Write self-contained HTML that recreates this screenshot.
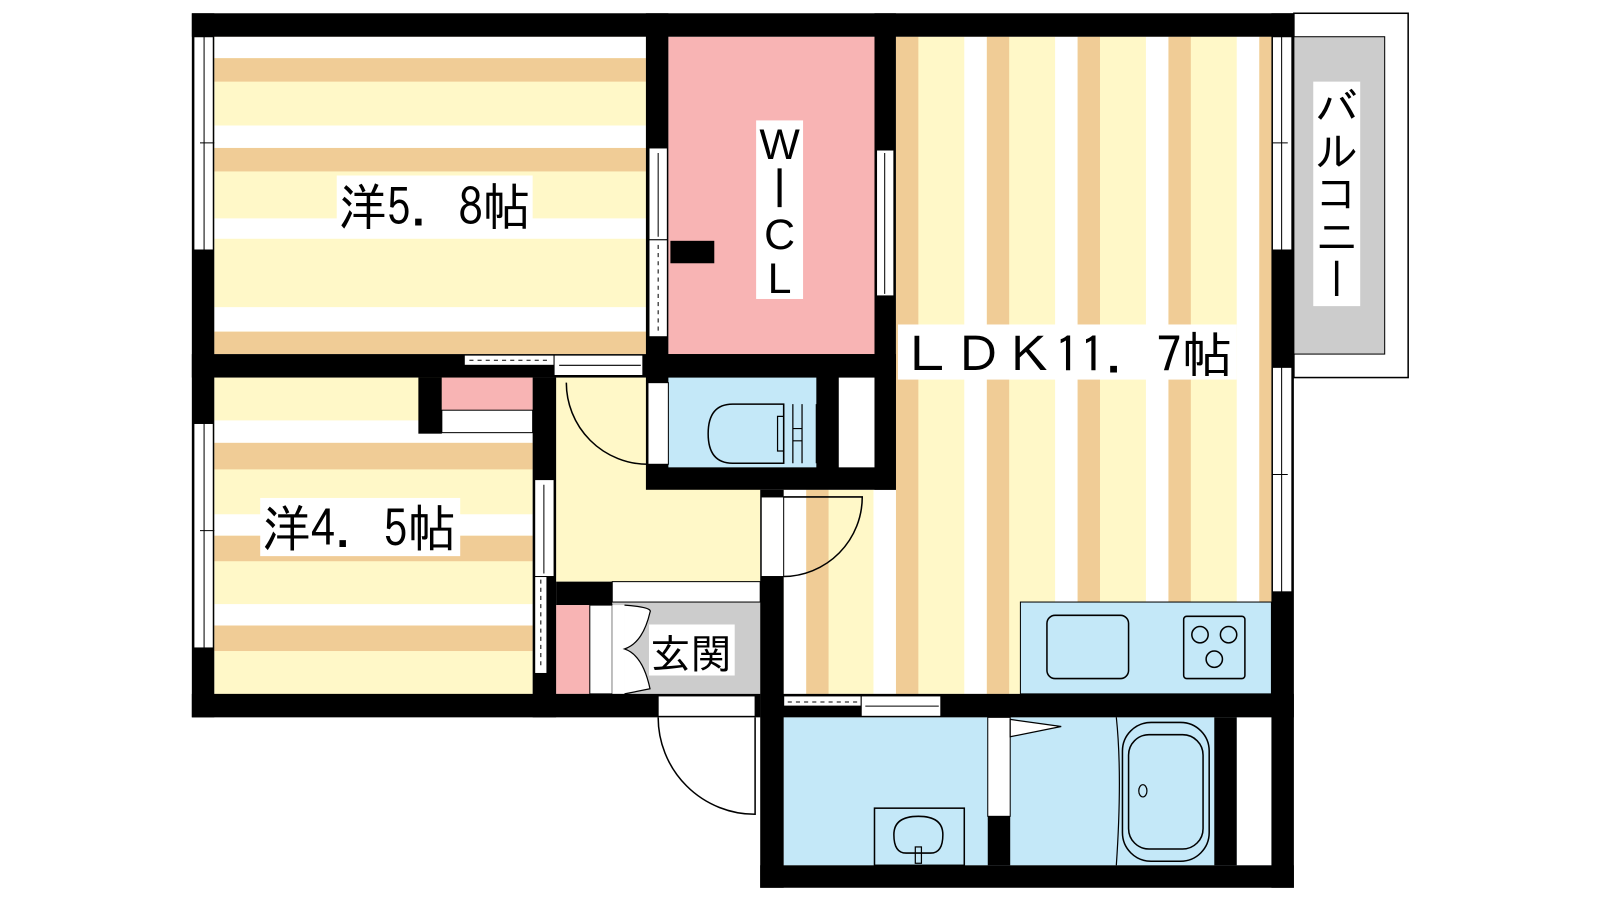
<!DOCTYPE html>
<html><head><meta charset="utf-8"><style>html,body{margin:0;padding:0;background:#fff;width:1600px;height:900px;overflow:hidden}svg{display:block}
text{font-family:"IPAGothic","Noto Sans CJK JP",sans-serif;fill:#000}</style></head><body>
<svg width="1600" height="900" viewBox="0 0 1568 882" preserveAspectRatio="none" xmlns="http://www.w3.org/2000/svg">
<rect width="1568" height="882" fill="#fff"/>
<!-- 5.8 room -->
<g>
<rect x="210" y="36" width="423" height="311" fill="#fff8c8"/>
<rect x="210" y="36" width="423" height="21" fill="#fff"/>
<rect x="210" y="57" width="423" height="23" fill="#f0cc96"/>
<rect x="210" y="123" width="423" height="22" fill="#fff"/>
<rect x="210" y="145" width="423" height="23" fill="#f0cc96"/>
<rect x="210" y="214" width="423" height="20" fill="#fff"/>
<rect x="210" y="301" width="423" height="24" fill="#fff"/>
<rect x="210" y="325" width="423" height="22" fill="#f0cc96"/>
</g>
<!-- LDK stripes -->
<rect x="878" y="36" width="368" height="644" fill="#fff8c8"/>
<rect x="768" y="480" width="110" height="200" fill="#fff8c8"/>
<g fill="#f0cc96">
<rect x="790" y="480" width="22" height="200"/>
<rect x="878" y="36" width="22" height="644"/>
<rect x="967" y="36" width="22" height="644"/>
<rect x="1056" y="36" width="22" height="644"/>
<rect x="1145" y="36" width="22" height="644"/>
<rect x="1234" y="36" width="12" height="644"/>
</g>
<g fill="#fff">
<rect x="768" y="480" width="22" height="200"/>
<rect x="856" y="480" width="22" height="200"/>
<rect x="945" y="36" width="22" height="644"/>
<rect x="1034" y="36" width="22" height="644"/>
<rect x="1123" y="36" width="22" height="644"/>
<rect x="1212" y="36" width="22" height="644"/>
</g>
<!-- WCL -->
<rect x="655" y="36" width="202" height="311" fill="#f8b4b4"/>
<rect x="657" y="236" width="43" height="22" fill="#000"/>
<!-- 4.5 room -->
<rect x="210" y="370" width="312" height="311" fill="#fff8c8"/>
<rect x="210" y="412" width="312" height="22" fill="#fff"/>
<rect x="210" y="434" width="312" height="26" fill="#f0cc96"/>
<rect x="210" y="504" width="312" height="21" fill="#fff"/>
<rect x="210" y="525" width="312" height="25" fill="#f0cc96"/>
<rect x="210" y="592" width="312" height="21" fill="#fff"/>
<rect x="210" y="613" width="312" height="25" fill="#f0cc96"/>
<rect x="410" y="370" width="23" height="55" fill="#000"/>
<rect x="433" y="370" width="89" height="32" fill="#f8b4b4"/>
<rect x="433" y="402" width="89" height="22" fill="#fff" stroke="#000" stroke-width="1"/>
<!-- hall -->
<rect x="545" y="370" width="200" height="200" fill="#fff8c8"/>
<!-- toilet block -->
<rect x="633" y="347" width="245" height="133" fill="#000"/>
<rect x="655" y="370" width="145" height="88" fill="#c4e8f8"/>
<rect x="822" y="370" width="35" height="88" fill="#fff"/>
<rect x="635" y="375" width="20" height="80" fill="#fff" stroke="#000" stroke-width="1"/>
<path d="M555,375 A80,80 0 0 0 635,455" fill="none" stroke="#000" stroke-width="1.5"/>
<path d="M718,396 L768,396 L768,454 L718,454 Q694,454 694,425 Q694,396 718,396 Z" fill="none" stroke="#000" stroke-width="1.5"/>
<path d="M768,396 V454 M777,396 V454 M786,396 V454 M800,396 V454 M768,408 H762 V442 H768 M777,420 H786 M777,432 H786" fill="none" stroke="#000" stroke-width="1.2"/>
<!-- entrance -->
<rect x="600" y="590" width="145" height="90" fill="#cccccc"/>
<rect x="600" y="570" width="145" height="20" fill="#fff" stroke="#000" stroke-width="1"/>
<rect x="545" y="570" width="55" height="23" fill="#000"/>
<rect x="545" y="593" width="33" height="87" fill="#f8b4b4"/>
<rect x="578" y="593" width="22" height="87" fill="#fff" stroke="#000" stroke-width="1"/>
<rect x="600" y="593" width="12" height="87" fill="#fff"/>
<path d="M612,593 Q640,595 637,600 Q630,630 612,636 Q630,642 637,675 L612,680" fill="#fff" stroke="#000" stroke-width="1.2"/>
<rect x="636" y="612" width="84" height="50" fill="#fff"/>
<text x="637" y="655" font-size="40">玄関</text>
<!-- kitchen -->
<rect x="1000" y="590" width="246" height="90" fill="#c4e8f8" stroke="#000" stroke-width="1"/>
<rect x="1026" y="603" width="80" height="62" rx="8" fill="none" stroke="#000" stroke-width="1.5"/>
<rect x="1160" y="604" width="60" height="61" rx="3" fill="none" stroke="#000" stroke-width="1.5"/>
<g fill="none" stroke="#000" stroke-width="1.5"><circle cx="1176" cy="622" r="8"/><circle cx="1204" cy="622" r="8"/><circle cx="1190" cy="646" r="8"/></g>
<!-- bath area -->
<rect x="768" y="703" width="478" height="145" fill="#c4e8f8"/>
<rect x="968" y="703" width="22" height="97" fill="#fff" stroke="#000" stroke-width="1"/>
<rect x="968" y="800" width="22" height="48" fill="#000"/>
<rect x="1212" y="703" width="34" height="145" fill="#fff"/>
<rect x="1190" y="703" width="22" height="145" fill="#000"/>
<path d="M990,705 L1040,712 L990,722 Z" fill="#fff" stroke="#000" stroke-width="1.2"/>
<path d="M1094,703 Q1100,760 1094,848" fill="none" stroke="#000" stroke-width="1.2"/>
<rect x="1100" y="708" width="85" height="136" rx="28" fill="none" stroke="#000" stroke-width="1.5"/>
<rect x="1106" y="720" width="73" height="112" rx="20" fill="none" stroke="#000" stroke-width="1.5"/>
<ellipse cx="1120" cy="775" rx="4" ry="6" fill="none" stroke="#000" stroke-width="1.2"/>
<rect x="857" y="792" width="88" height="56" fill="none" stroke="#000" stroke-width="1.5"/>
<path d="M888,836 Q876,836 876,818 Q876,800 900,800 Q924,800 924,818 Q924,836 912,836 Z" fill="none" stroke="#000" stroke-width="1.5"/>
<rect x="897" y="830" width="6" height="16" fill="none" stroke="#000" stroke-width="1.2"/>
<!-- walls -->
<g fill="#000">
<rect x="188" y="13" width="1080" height="23"/>
<rect x="188" y="13" width="22" height="690"/>
<rect x="633" y="13" width="22" height="357"/>
<rect x="857" y="13" width="21" height="467"/>
<rect x="188" y="347" width="690" height="23"/>
<rect x="522" y="370" width="23" height="333"/>
<rect x="188" y="680" width="557" height="23"/>
<rect x="745" y="480" width="23" height="390"/>
<rect x="745" y="680" width="523" height="23"/>
<rect x="1246" y="13" width="22" height="857"/>
<rect x="745" y="848" width="523" height="22"/>
</g>
<!-- windows / doors in walls -->
<g fill="#fff" stroke="#000" stroke-width="1">
<rect x="190" y="36" width="19" height="209"/>
<rect x="190" y="415" width="19" height="220"/>
<rect x="1247" y="36" width="19" height="209"/>
<rect x="1247" y="360" width="19" height="220"/>
<rect x="636" y="145" width="18" height="90"/>
<rect x="636" y="235" width="18" height="95"/>
<rect x="859" y="147" width="17" height="143"/>
<rect x="455" y="348" width="88" height="10"/>
<rect x="543" y="348" width="87" height="20"/>
<rect x="524" y="470" width="19" height="95"/>
<rect x="524" y="565" width="12" height="95"/>
<rect x="768" y="682" width="76" height="10"/>
<rect x="844" y="682" width="78" height="20"/>
<rect x="645" y="682" width="95" height="20"/>
<rect x="746" y="487" width="22" height="78"/>
</g>
<g stroke="#000" stroke-width="1" fill="none">
<path d="M200,36 V245 M200,415 V635 M1256,36 V245 M1256,360 V580 M196,140 H210 M196,520 H210 M1247,140 H1262 M1247,465 H1262"/>
<path d="M645,240 V326 M530,568 V656 M460,353 H540 M772,688 H840" stroke-dasharray="4,4"/>
<path d="M645,150 V232 M867,150 V288 M533,475 V562 M548,358 H628 M848,692 H920"/>
</g>
<path d="M768,487 L845,487 A78,78 0 0 1 768,565" fill="none" stroke="#000" stroke-width="1.5"/>
<path d="M645,703 A95,95 0 0 0 740,798 L740,703" fill="none" stroke="#000" stroke-width="1.5"/>
<!-- balcony -->
<rect x="1268" y="13" width="112" height="357" fill="#fff" stroke="#000" stroke-width="1.5"/>
<rect x="1268" y="36" width="89" height="311" fill="#cccccc" stroke="#000" stroke-width="1"/>
<rect x="1287" y="80" width="46" height="220" fill="#fff"/>
<text x="1310" y="84" font-size="42" style="writing-mode:vertical-rl;text-orientation:upright" text-anchor="start">バルコニー</text>
<!-- labels -->
<rect x="330" y="172" width="192" height="60" fill="#fff"/>
<text x="332" y="221" font-size="50" textLength="188" lengthAdjust="spacingAndGlyphs">洋5. 8帖</text>
<rect x="255" y="488" width="196" height="57" fill="#fff"/>
<text x="257" y="536" font-size="50" textLength="190" lengthAdjust="spacingAndGlyphs">洋4. 5帖</text>
<rect x="880" y="318" width="332" height="54" fill="#fff"/>
<text x="884" y="365" font-size="48" textLength="324" lengthAdjust="spacingAndGlyphs">ＬＤＫ11. 7帖</text>
<rect x="741" y="118" width="46" height="175" fill="#fff"/>
<g style="font-family:'Liberation Sans',sans-serif">
<text x="764" y="156" font-size="42" text-anchor="middle" style="font-family:'Liberation Sans',sans-serif">W</text>
<text x="764" y="244" font-size="42" text-anchor="middle" style="font-family:'Liberation Sans',sans-serif">C</text>
<text x="764" y="287" font-size="42" text-anchor="middle" style="font-family:'Liberation Sans',sans-serif">L</text>
</g>
<rect x="762" y="165" width="4" height="38" fill="#000"/>
</svg>
</body></html>
